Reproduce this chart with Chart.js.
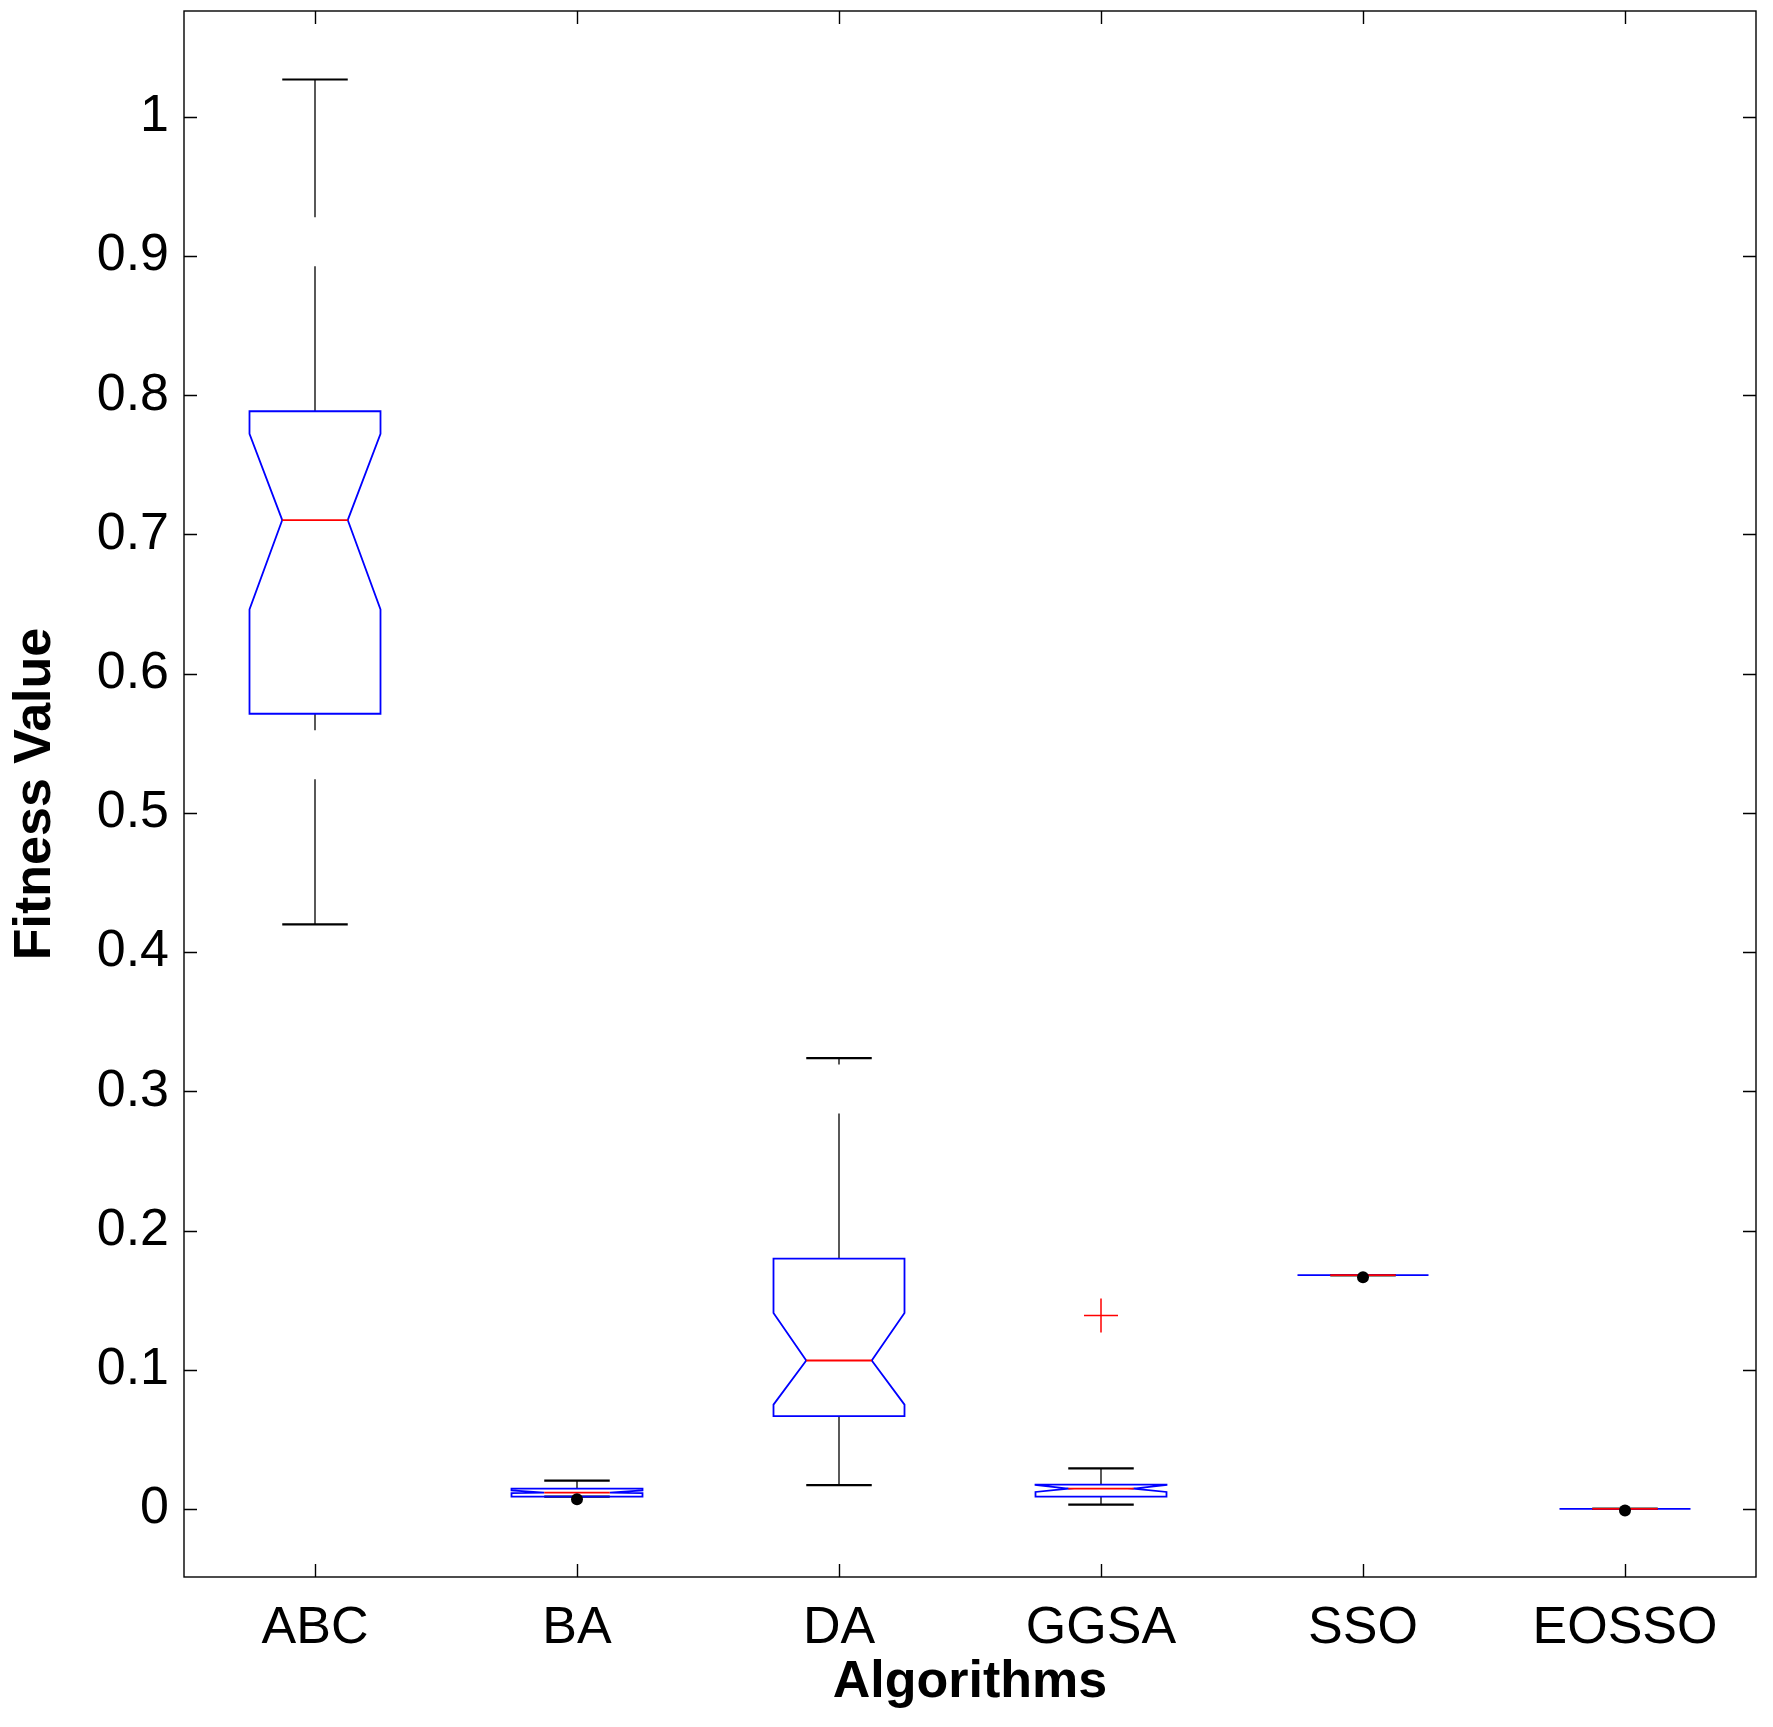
<!DOCTYPE html>
<html>
<head>
<meta charset="utf-8">
<script src="https://cdn.jsdelivr.net/npm/chart.js@4.4.1/dist/chart.umd.min.js"></script>
<style>
  html, body { margin: 0; padding: 0; background: #ffffff; }
  #wrap { width: 1773px; height: 1727px; }
</style>
</head>
<body>
<div id="wrap"><canvas id="c" width="1773" height="1727"></canvas></div>
<script>
// ---- data ----
const categories  = ['ABC', 'BA', 'DA', 'GGSA', 'SSO', 'EOSSO'];
const whiskerLow  = [0.4199, 0.0088, 0.0171, 0.0031, 0.1680, 0.0000];
const q1          = [0.5712, 0.0088, 0.0667, 0.0088, 0.1680, 0.0000];
const notchLow    = [0.6461, 0.0113, 0.0749, 0.0122, 0.1680, 0.0000];
const medians     = [0.7103, 0.0117, 0.1066, 0.0146, 0.1680, 0.0000];
const notchHigh   = [0.7722, 0.0133, 0.1408, 0.0172, 0.1680, 0.0000];
const q3          = [0.7885, 0.0146, 0.1798, 0.0175, 0.1680, 0.0000];
const whiskerHigh = [1.0268, 0.0203, 0.3238, 0.0292, 0.1680, 0.0000];
const outlierX    = [4];
const outlierY    = [0.139];
const dotX        = [2, 5, 6];
const dotY        = [0.0070, 0.1665, -0.0012];
const yTickValues = [0, 0.1, 0.2, 0.3, 0.4, 0.5, 0.6, 0.7, 0.8, 0.9, 1];
const yTickLabels = ['0', '0.1', '0.2', '0.3', '0.4', '0.5', '0.6', '0.7', '0.8', '0.9', '1'];
const yMin = -0.0489, yMax = 1.076;

const FONT = '"Liberation Sans", Arial, Helvetica, sans-serif';
const BOX_HALF = 0.25;   // box half width in category units
const CAP_HALF = 0.125;  // whisker cap half width

const boxPlugin = {
  id: 'boxes',
  beforeDatasetsDraw(chart) {
    const ctx = chart.ctx, xs = chart.scales.x, ys = chart.scales.y;
    ctx.save();
    for (let i = 0; i < categories.length; i++) {
      const xv = i + 1;
      const xc = xs.getPixelForValue(xv);
      const xl = xs.getPixelForValue(xv - BOX_HALF), xr = xs.getPixelForValue(xv + BOX_HALF);
      const xnl = xs.getPixelForValue(xv - BOX_HALF / 2), xnr = xs.getPixelForValue(xv + BOX_HALF / 2);
      const cl = xs.getPixelForValue(xv - CAP_HALF), cr = xs.getPixelForValue(xv + CAP_HALF);
      const pWL = ys.getPixelForValue(whiskerLow[i]), pWH = ys.getPixelForValue(whiskerHigh[i]);
      const pQ1 = ys.getPixelForValue(q1[i]), pQ3 = ys.getPixelForValue(q3[i]);
      const pNL = ys.getPixelForValue(notchLow[i]), pNH = ys.getPixelForValue(notchHigh[i]);
      const pM = ys.getPixelForValue(medians[i]);
      // whiskers (dashed, drawn from lower to upper value)
      ctx.strokeStyle = '#000000';
      ctx.lineWidth = 1.3;
      ctx.setLineDash([145, 49]);
      if (pWL - pQ1 > 0.5) { ctx.beginPath(); ctx.moveTo(xc, pWL); ctx.lineTo(xc, pQ1); ctx.stroke(); }
      if (pQ3 - pWH > 0.5) { ctx.beginPath(); ctx.moveTo(xc, pQ3); ctx.lineTo(xc, pWH); ctx.stroke(); }
      ctx.setLineDash([]);
      // whisker caps
      ctx.lineWidth = 2.2;
      ctx.beginPath(); ctx.moveTo(cl, pWL); ctx.lineTo(cr, pWL); ctx.stroke();
      ctx.beginPath(); ctx.moveTo(cl, pWH); ctx.lineTo(cr, pWH); ctx.stroke();
      // notched box
      ctx.strokeStyle = '#0000ff';
      ctx.lineWidth = 1.8;
      ctx.beginPath();
      ctx.moveTo(xl, pQ1); ctx.lineTo(xl, pNL); ctx.lineTo(xnl, pM); ctx.lineTo(xl, pNH); ctx.lineTo(xl, pQ3);
      ctx.lineTo(xr, pQ3); ctx.lineTo(xr, pNH); ctx.lineTo(xnr, pM); ctx.lineTo(xr, pNL); ctx.lineTo(xr, pQ1);
      ctx.closePath();
      ctx.stroke();
      // median
      ctx.strokeStyle = '#ff0000';
      ctx.lineWidth = 1.8;
      ctx.beginPath(); ctx.moveTo(xnl, pM); ctx.lineTo(xnr, pM); ctx.stroke();
    }
    ctx.restore();
  },
  afterDraw(chart) {
    const ctx = chart.ctx, a = chart.chartArea, xs = chart.scales.x, ys = chart.scales.y;
    const TL = 13;
    ctx.save();
    ctx.strokeStyle = '#000000';
    ctx.lineWidth = 1.4;
    ctx.strokeRect(a.left, a.top, a.right - a.left, a.bottom - a.top);
    ctx.beginPath();
    ys.ticks.forEach(t => {
      const y = Math.round(ys.getPixelForValue(t.value)) + 0.5;
      ctx.moveTo(a.left, y); ctx.lineTo(a.left + TL, y);
      ctx.moveTo(a.right, y); ctx.lineTo(a.right - TL, y);
    });
    xs.ticks.forEach(t => {
      const x = Math.round(xs.getPixelForValue(t.value)) + 0.5;
      ctx.moveTo(x, a.bottom); ctx.lineTo(x, a.bottom - TL);
      ctx.moveTo(x, a.top); ctx.lineTo(x, a.top + TL);
    });
    ctx.stroke();
    ctx.restore();
  }
};

new Chart(document.getElementById('c'), {
  type: 'scatter',
  data: {
    datasets: [
      {
        label: 'outliers',
        data: outlierX.map((x, k) => ({ x: x, y: outlierY[k] })),
        pointStyle: 'cross',
        radius: 17,
        borderColor: '#ff0000',
        borderWidth: 1.5,
        backgroundColor: '#ff0000'
      },
      {
        label: 'dots',
        data: dotX.map((x, k) => ({ x: x, y: dotY[k] })),
        pointStyle: 'circle',
        radius: 6,
        borderWidth: 0,
        backgroundColor: '#000000',
        borderColor: '#000000'
      }
    ]
  },
  options: {
    responsive: false,
    devicePixelRatio: 1,
    animation: false,
    layout: { autoPadding: false, padding: { left: 0, right: 17, top: 11, bottom: 0 } },
    plugins: { legend: { display: false }, tooltip: { enabled: false } },
    scales: {
      x: {
        type: 'linear',
        min: 0.5, max: 6.5,
        afterBuildTicks: s => { s.ticks = categories.map((c, i) => ({ value: i + 1 })); },
        afterFit: s => { s.height = 150; s.paddingLeft = 0; s.paddingRight = 0; },
        grid: { display: false, drawTicks: false },
        border: { display: false },
        ticks: {
          padding: 20,
          autoSkip: false,
          maxRotation: 0,
          color: '#000000',
          font: { family: FONT, size: 52 },
          callback: (v) => categories[Math.round(v) - 1]
        },
        title: {
          display: true,
          text: 'Algorithms',
          color: '#000000',
          font: { family: FONT, size: 52, weight: 'bold' },
          padding: { top: 0, bottom: 13 }
        }
      },
      y: {
        type: 'linear',
        min: yMin, max: yMax,
        afterBuildTicks: s => { s.ticks = yTickValues.map(v => ({ value: v })); },
        afterFit: s => { s.width = 184; s.paddingTop = 0; s.paddingBottom = 0; },
        grid: { display: false, drawTicks: false },
        border: { display: false },
        ticks: {
          padding: 15,
          color: '#000000',
          font: { family: FONT, size: 52 },
          callback: (v, i) => yTickLabels[i]
        },
        title: {
          display: true,
          text: 'Fitness Value',
          color: '#000000',
          font: { family: FONT, size: 52, weight: 'bold' },
          padding: { top: 4, bottom: 0 }
        }
      }
    }
  },
  plugins: [boxPlugin]
});
</script>
</body>
</html>
